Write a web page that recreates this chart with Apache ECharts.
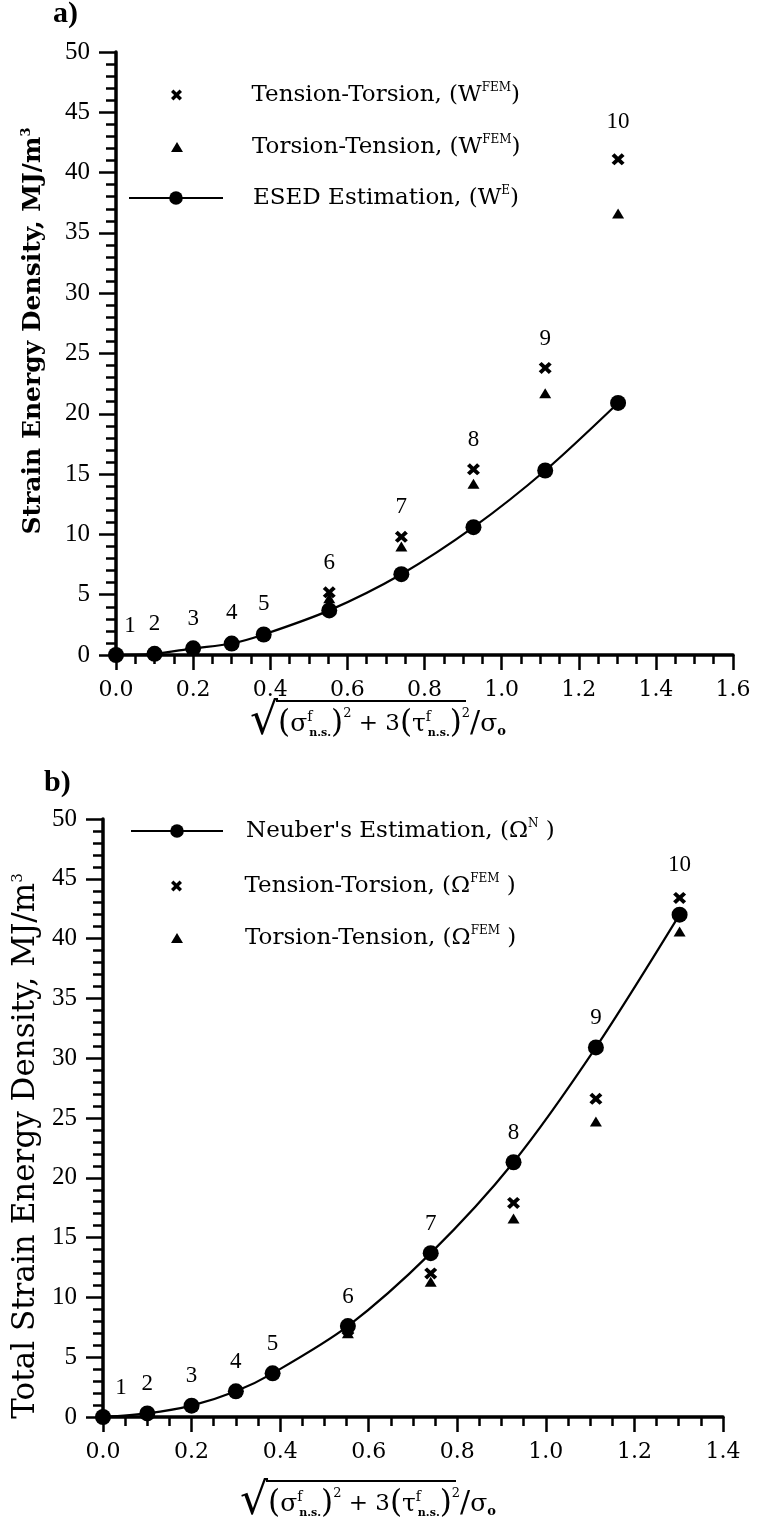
<!DOCTYPE html>
<html>
<head>
<meta charset="utf-8">
<script src="https://cdn.jsdelivr.net/npm/echarts@6/dist/echarts.min.js"></script>
<style>
  html, body { margin: 0; padding: 0; background: #fff; }
  #root { width: 758px; height: 1530px; }
</style>
</head>
<body>
<div id="root"></div>
<script>
// normalised equivalent stress, shared by both panels
const ratio = [0, 0.1, 0.2, 0.3, 0.383, 0.553, 0.74, 0.927, 1.113, 1.302];
const pointNames = ['1', '2', '3', '4', '5', '6', '7', '8', '9', '10'];

// a) strain energy density, MJ/m^3
const esedA = [0, 0.1, 0.55, 0.95, 1.7, 3.7, 6.7, 10.6, 15.3, 20.9];
const tensTorsA = [0, 0.1, 0.55, 1.0, 1.75, 5.2, 9.8, 15.4, 23.8, 41.1];
const torsTensA = [0, 0.1, 0.5, 0.95, 1.7, 4.7, 9.0, 14.2, 21.7, 36.6];

// b) total strain energy density, MJ/m^3
const neuberB = [0, 0.3, 0.95, 2.15, 3.65, 7.6, 13.7, 21.3, 30.9, 42.0];
const tensTorsB = [0, 0.3, 0.95, 2.15, 3.65, 7.3, 12.0, 17.9, 26.6, 43.4];
const torsTensB = [0, 0.3, 0.9, 2.1, 3.6, 7.0, 11.3, 16.6, 24.7, 40.6];

const xMaxA = 1.6, xMaxB = 1.4;

const CROSS = 'path://M0,2.2L2.2,0L5,2.8L7.8,0L10,2.2L7.2,5L10,7.8L7.8,10L5,7.2L2.2,10L0,7.8L2.8,5Z';
const SERIF = 'DejaVu Serif';
const pairs = ys => ys.map((y, i) => [ratio[i], y]);
const solid = { color: '#000', opacity: 1 };

const chart = echarts.init(document.getElementById('root'));

function xAxisFor(grid, max) {
  return {
    type: 'value', gridIndex: grid, min: 0, max: max, interval: 0.2,
    axisLine: { onZero: false, lineStyle: { color: '#000', width: 3.5 } },
    axisTick: { length: 15, lineStyle: { color: '#000', width: 2.5 } },
    minorTick: { show: true, splitNumber: 4, length: 9, lineStyle: { color: '#000', width: 2.5 } },
    splitLine: { show: false },
    axisLabel: { color: '#000', fontFamily: SERIF, fontSize: 22, margin: 24, formatter: v => v.toFixed(1) }
  };
}
function yAxisFor(grid) {
  return {
    type: 'value', gridIndex: grid, min: 0, max: 50, interval: 5,
    axisLine: { onZero: false, lineStyle: { color: '#000', width: 3.5 } },
    axisTick: { length: 17, lineStyle: { color: '#000', width: 2.5 } },
    minorTick: { show: true, splitNumber: 5, length: 10, lineStyle: { color: '#000', width: 2.5 } },
    splitLine: { show: false },
    axisLabel: { color: '#000', fontFamily: 'Liberation Serif', fontSize: 25, margin: 26 }
  };
}

function numberLabel(distance) {
  return {
    show: true, position: 'top', distance: distance,
    formatter: p => pointNames[p.dataIndex],
    fontFamily: 'Liberation Serif', fontSize: 23, color: '#000', opacity: 1
  };
}
// label tweaks: first label sits right of the origin, last one higher
function withLabelShift(data, first, last) {
  return data.map((d, i) => {
    if (i === 0) return { value: d, label: { offset: first } };
    if (i === data.length - 1) return { value: d, label: { offset: last } };
    return d;
  });
}

const legendText = {
  'ESED-a': 'ESED Estimation, (W{sup|E})',
  'TT-a': 'Tension-Torsion, (W{sup|FEM})',
  'TorT-a': 'Torsion-Tension, (W{sup|FEM})',
  'Neuber-b': "Neuber's Estimation, (Ω{sup|N} )",
  'TT-b': 'Tension-Torsion, (Ω{sup|FEM} )',
  'TorT-b': 'Torsion-Tension, (Ω{sup|FEM} )'
};
function legendFor(name, left, rowY, w, h, gap) {
  return {
    data: [name], left: left, top: rowY - 15, padding: 0,
    itemWidth: w, itemHeight: h, selectedMode: false,
    itemStyle: { opacity: 1 },
    formatter: n => '{sp| }' + legendText[n],
    textStyle: {
      fontFamily: SERIF, fontSize: 23, color: '#000', lineHeight: 30,
      rich: {
        sp: { width: gap, lineHeight: 30 },
        sup: { fontFamily: SERIF, fontSize: 12, lineHeight: 12, verticalAlign: 'top', padding: [2, 0, 0, 0] }
      }
    }
  };
}

function formula(x, y) {
  return {
    type: 'group', x: x, y: y,
    children: [
      {
        type: 'text',
        style: {
          x: 0, y: 0, textVerticalAlign: 'middle', fill: '#000',
          text: '{rt|√}{pa|(}{gk|σ}{fs|f}{ns|n.s.}{pa|)}{sq|2}{op| + 3}{pa|(}{gk|τ}{fs|f}{ns|n.s.}{pa|)}{sq|2}{sl|/}{gk|σ}{ob|o}',
          rich: {
            rt: { fontFamily: 'DejaVu Sans', fontSize: 44, lineHeight: 48, padding: [0, 0, 2, 0] },
            pa: { fontFamily: SERIF, fontSize: 31, lineHeight: 48 },
            gk: { fontFamily: SERIF, fontSize: 25, lineHeight: 48 },
            op: { fontFamily: SERIF, fontSize: 23, lineHeight: 48 },
            sl: { fontFamily: SERIF, fontSize: 30, lineHeight: 48 },
            fs: { fontFamily: SERIF, fontSize: 14, lineHeight: 16, width: 2, verticalAlign: 'top', padding: [10, 0, 0, 0] },
            ns: { fontFamily: SERIF, fontSize: 11, fontWeight: 'bold', lineHeight: 12, verticalAlign: 'bottom', padding: [0, 0, 9, 0] },
            sq: { fontFamily: SERIF, fontSize: 13, lineHeight: 14, verticalAlign: 'top', padding: [7, 0, 0, 0] },
            ob: { fontFamily: SERIF, fontSize: 13, fontWeight: 'bold', lineHeight: 12, verticalAlign: 'bottom', padding: [0, 0, 10, 0] }
          }
        }
      },
      { type: 'line', shape: { x1: 26, y1: -23, x2: 216, y2: -23 }, style: { stroke: '#000', lineWidth: 2 } }
    ]
  };
}

chart.setOption({
  animation: false,
  backgroundColor: '#fff',
  grid: [
    { left: 116, top: 52, width: 617, height: 603 },
    { left: 103, top: 819, width: 620, height: 598 }
  ],
  xAxis: [xAxisFor(0, xMaxA), xAxisFor(1, xMaxB)],
  yAxis: [yAxisFor(0), yAxisFor(1)],
  legend: [
    legendFor('TT-a', 171, 95, 12, 11, 64),
    legendFor('TorT-a', 171, 147, 12, 10, 64),
    legendFor('ESED-a', 128, 198, 94, 17, 25),
    legendFor('Neuber-b', 130, 831, 92, 17, 18),
    legendFor('TT-b', 171, 886, 12, 11, 57),
    legendFor('TorT-b', 171, 938, 12, 10, 57)
  ],
  series: [
    {
      name: 'TorT-a', type: 'scatter', xAxisIndex: 0, yAxisIndex: 0,
      symbol: 'triangle', symbolSize: [12, 10], itemStyle: solid,
      data: pairs(torsTensA)
    },
    {
      name: 'TT-a', type: 'scatter', xAxisIndex: 0, yAxisIndex: 0,
      symbol: CROSS, symbolSize: [13, 12], itemStyle: solid,
      label: numberLabel(12),
      data: withLabelShift(pairs(tensTorsA), [14, 0], [0, -8])
    },
    {
      name: 'ESED-a', type: 'line', xAxisIndex: 0, yAxisIndex: 0, smooth: 0.3,
      symbol: 'circle', symbolSize: 16, showAllSymbol: true,
      lineStyle: { color: '#000', width: 2.2 }, itemStyle: solid,
      data: pairs(esedA)
    },
    {
      name: 'TorT-b', type: 'scatter', xAxisIndex: 1, yAxisIndex: 1,
      symbol: 'triangle', symbolSize: [12, 10], itemStyle: solid,
      data: pairs(torsTensB)
    },
    {
      name: 'TT-b', type: 'scatter', xAxisIndex: 1, yAxisIndex: 1,
      symbol: CROSS, symbolSize: [13, 12], itemStyle: solid,
      data: pairs(tensTorsB)
    },
    {
      name: 'Neuber-b', type: 'line', xAxisIndex: 1, yAxisIndex: 1, smooth: 0.3,
      symbol: 'circle', symbolSize: 16, showAllSymbol: true,
      lineStyle: { color: '#000', width: 2.2 }, itemStyle: solid,
      label: numberLabel(10),
      data: withLabelShift(pairs(neuberB), [18, 0], [0, -20])
    }
  ],
  graphic: [
    { type: 'text', x: 53, y: 14, style: { text: 'a)', font: 'bold 30px "Liberation Serif"', fill: '#000', textVerticalAlign: 'middle' } },
    { type: 'text', x: 44, y: 783, style: { text: 'b)', font: 'bold 30px "Liberation Serif"', fill: '#000', textVerticalAlign: 'middle' } },
    {
      type: 'text', x: 33, y: 331, rotation: Math.PI / 2,
      style: {
        text: 'Strain Energy Density, MJ/m{s|3}', textAlign: 'center', textVerticalAlign: 'middle',
        font: 'bold 25px "DejaVu Serif"', fill: '#000',
        rich: { s: { fontFamily: SERIF, fontSize: 13, fontWeight: 'bold', verticalAlign: 'top', lineHeight: 13 } }
      }
    },
    {
      type: 'text', x: 26, y: 1146, rotation: Math.PI / 2,
      style: {
        text: 'Total Strain Energy Density, MJ/m{s|3}', textAlign: 'center', textVerticalAlign: 'middle',
        font: '31px "DejaVu Serif"', fill: '#000',
        rich: { s: { fontFamily: SERIF, fontSize: 15, verticalAlign: 'top', lineHeight: 15 } }
      }
    },
    formula(250, 724),
    formula(240, 1504)
  ]
});
</script>
</body>
</html>
